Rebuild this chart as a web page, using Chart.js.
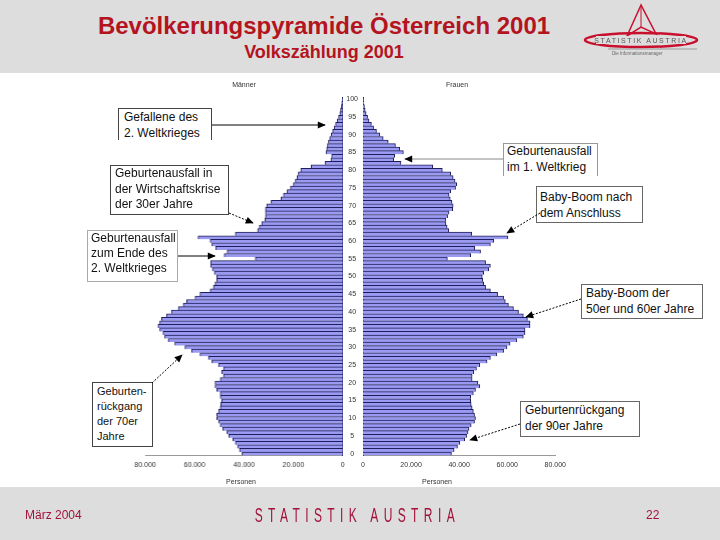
<!DOCTYPE html>
<html lang="de">
<head>
<meta charset="utf-8">
<title>Bevölkerungspyramide Österreich 2001</title>
<script src="https://cdn.jsdelivr.net/npm/chart.js@4.4.1/dist/chart.umd.min.js"></script>
<style>
  body { margin: 0; background: #fff; }
  #slide { position: relative; width: 720px; height: 540px; overflow: hidden; background: #fff;
           font-family: Arial, "Liberation Sans", sans-serif; }
  .band { position: absolute; left: 0; width: 720px; background: #dddddd; }
  #titel { position: absolute; left: 0; width: 648px; top: 12px; text-align: center;
           font: bold 24px Arial, "Liberation Sans", sans-serif; color: #b4141e; line-height: 28px; }
  #untertitel { position: absolute; left: 0; width: 648px; top: 41px; text-align: center;
                font: bold 18px Arial, "Liberation Sans", sans-serif; color: #b4141e; line-height: 22px; }
  .chartbox { position: absolute; top: 80px; height: 400px; }
  .lbl { position: absolute; font-size: 7px; color: #333; line-height: 9px; transform: translateX(-50%); white-space: nowrap; }
  .note { position: absolute; box-sizing: border-box; background: #fff; border: 1px solid #444;
          font-size: 12px; color: #111; line-height: 15.5px; white-space: nowrap; }
  #fussDatum { position: absolute; left: 25px; top: 508px; font-size: 12px; color: #a3123a; }
  #fussSeite { position: absolute; left: 646px; top: 508px; font-size: 12px; color: #a3123a; }
  #fussLogo { position: absolute; left: 0; width: 710px; top: 505px; text-align: center; }
  #fussLogo span { display: inline-block; font-size: 20px; line-height: 20px; letter-spacing: 9px; padding-left: 9px;
                   color: #a3123a; transform: scaleX(0.6); transform-origin: center; }
</style>
</head>
<body>
<div id="slide">
  <div class="band" style="top:0;height:73px;"></div>
  <div class="band" style="top:487px;height:53px;"></div>

  <div id="titel">Bevölkerungspyramide Österreich 2001</div>
  <div id="untertitel">Volkszählung 2001</div>

  <div class="chartbox" style="left:100px;width:248.7px;"><canvas id="maennerChart"></canvas></div>
  <div class="chartbox" style="left:341px;width:230px;"><canvas id="frauenChart"></canvas></div>

  <div class="lbl" style="left:244px;top:80px;">Männer</div>
  <div class="lbl" style="left:457px;top:80px;">Frauen</div>
  <div class="lbl" style="left:241px;top:477px;">Personen</div>
  <div class="lbl" style="left:437px;top:477px;">Personen</div>

  <!-- Anmerkungen -->
  <div class="note" style="left:118px;top:108px;width:94px;height:32px;padding:1px 0 0 5px;border-bottom:none;">Gefallene des<br>2. Weltkrieges</div>
  <div class="note" style="left:110px;top:165px;width:119px;height:50px;padding:0 0 0 4px;">Geburtenausfall in<br>der Wirtschaftskrise<br>der 30er Jahre</div>
  <div class="note" style="left:87px;top:230px;width:91px;height:52px;padding:0 0 0 3px;border-color:#aaa;line-height:15px;">Geburtenausfall<br>zum Ende des<br>2. Weltkrieges</div>
  <div class="note" style="left:92px;top:382px;width:61px;height:65px;padding:1px 0 0 4px;font-size:11px;line-height:15px;">Geburten-<br>rückgang<br>der 70er<br>Jahre</div>
  <div class="note" style="left:503px;top:143px;width:95px;height:33px;padding:0 0 0 3px;border-color:#999;border-bottom:none;">Geburtenausfall<br>im 1. Weltkrieg</div>
  <div class="note" style="left:536px;top:186px;width:107px;height:37px;padding:3px 0 0 3px;border-color:#666;">Baby-Boom nach<br>dem Anschluss</div>
  <div class="note" style="left:581px;top:284px;width:122px;height:35px;padding:1px 0 0 4px;border-color:#666;">Baby-Boom der<br>50er und 60er Jahre</div>
  <div class="note" style="left:520px;top:401px;width:120px;height:36px;padding:1px 0 0 4px;border-color:#666;">Geburtenrückgang<br>der 90er Jahre</div>

  <svg width="720" height="540" style="position:absolute;left:0;top:0;pointer-events:none;">
    <defs>
      <marker id="spitze" viewBox="0 0 10 10" refX="9" refY="5" markerWidth="9" markerHeight="8"
              markerUnits="userSpaceOnUse" orient="auto">
        <path d="M0,0.5 L10,5 L0,9.5 z" fill="#000"/>
      </marker>
    </defs>
    <line x1="212" y1="125" x2="325" y2="125" stroke="#000" stroke-width="1" marker-end="url(#spitze)"/>
    <line x1="229" y1="213" x2="253" y2="223" stroke="#000" stroke-width="1" stroke-dasharray="2,1.5" marker-end="url(#spitze)"/>
    <line x1="178" y1="256" x2="215" y2="256" stroke="#000" stroke-width="1" marker-end="url(#spitze)"/>
    <line x1="152" y1="383" x2="182" y2="355" stroke="#000" stroke-width="1" stroke-dasharray="2,1.5" marker-end="url(#spitze)"/>
    <line x1="503" y1="159" x2="405" y2="159" stroke="#888" stroke-width="1" marker-end="url(#spitze)"/>
    <line x1="540" y1="213" x2="507" y2="233" stroke="#000" stroke-width="1" stroke-dasharray="2,1.5" marker-end="url(#spitze)"/>
    <line x1="581" y1="299" x2="526" y2="317" stroke="#000" stroke-width="1" stroke-dasharray="2,1.5" marker-end="url(#spitze)"/>
    <line x1="520" y1="424" x2="470" y2="440" stroke="#000" stroke-width="1" stroke-dasharray="2,1.5" marker-end="url(#spitze)"/>

    <!-- Logo oben rechts -->
    <path d="M641,5 L627,36 L641,27 L656,34 Z" fill="none" stroke="#c8102e" stroke-width="1.5"/>
    <line x1="641" y1="5" x2="641" y2="27" stroke="#c8102e" stroke-width="1"/>
    <ellipse cx="641" cy="40" rx="56" ry="7" fill="none" stroke="#c8102e" stroke-width="2.5"/>
    <rect x="596" y="36" width="90" height="8" fill="#dddddd"/>
    <text x="641" y="43" text-anchor="middle" font-size="7" letter-spacing="1.6" fill="#555" font-family="Arial, sans-serif">STATISTIK AUSTRIA</text>
    <line x1="608" y1="49" x2="697" y2="49" stroke="#999" stroke-width="1"/>
    <text x="612" y="55" font-size="4.5" fill="#666" font-family="Arial, sans-serif">Die Informationsmanager</text>
  </svg>

  <div id="fussDatum">März 2004</div>
  <div id="fussLogo"><span>STATISTIK AUSTRIA</span></div>
  <div id="fussSeite">22</div>
</div>

<script>
// Altersjahre 0 bis 100
const alter = [
  0, 1, 2, 3, 4, 5, 6, 7, 8, 9, 10, 11, 12, 13, 14, 15, 16, 17, 18, 19,
  20, 21, 22, 23, 24, 25, 26, 27, 28, 29, 30, 31, 32, 33, 34, 35, 36, 37, 38, 39,
  40, 41, 42, 43, 44, 45, 46, 47, 48, 49, 50, 51, 52, 53, 54, 55, 56, 57, 58, 59,
  60, 61, 62, 63, 64, 65, 66, 67, 68, 69, 70, 71, 72, 73, 74, 75, 76, 77, 78, 79,
  80, 81, 82, 83, 84, 85, 86, 87, 88, 89, 90, 91, 92, 93, 94, 95, 96, 97, 98, 99, 100
];

// Männer je Altersjahr (Personen)
const maenner = [
  40800, 41800, 42600, 43500, 44500, 46200, 46900, 48600, 49600, 50300,
  51000, 51000, 50300, 49600, 49400, 49000, 49600, 49600, 51000, 51700,
  51700, 49600, 48300, 49000, 48300, 50300, 53000, 54400, 57800, 61200,
  63900, 68000, 70700, 72100, 72800, 74100, 74800, 74100, 73400, 71400,
  69400, 66600, 64600, 63200, 59800, 57800, 53700, 52400, 51700, 51000,
  51000, 52000, 52800, 53500, 53500, 35400, 48000, 46800, 51500, 53000,
  53700, 58600, 43500, 34500, 33800, 32800, 31500, 31300, 31300, 31300,
  30800, 29000, 25000, 24000, 22500, 21200, 20000, 19200, 18500, 18000,
  17000, 12800, 7200, 4800, 4500, 6800, 6500, 6200, 5800, 5300,
  4700, 4100, 3500, 2900, 2300, 1700, 1200, 900, 600, 400, 250
];

// Frauen je Altersjahr (Personen)
const frauen = [
  36800, 37900, 39300, 40300, 42300, 43100, 43700, 44100, 45000, 46400,
  46800, 46400, 45900, 45400, 45000, 44800, 44800, 45900, 46800, 48600,
  47800, 45400, 45400, 46100, 47200, 48600, 51600, 53000, 55700, 58500,
  59900, 61200, 64000, 66700, 67400, 67400, 69500, 69500, 68400, 66700,
  64700, 62600, 60500, 59200, 58500, 56000, 53000, 51000, 50200, 49800,
  49600, 50200, 52300, 53000, 51000, 35100, 44800, 48900, 46500, 53000,
  54400, 60300, 45200, 35700, 35000, 34500, 34500, 35200, 35800, 37300,
  37500, 37000, 36300, 35800, 36500, 38500, 39000, 38300, 37500, 36500,
  33000, 29000, 15800, 12800, 13200, 16800, 15300, 13500, 10500, 8400,
  7000, 5600, 4400, 3500, 2500, 1900, 1300, 900, 600, 350, 200
];

// Achsenbeschriftung x
const xMax = 80000;
const xSchritt = 20000;

const schrift = 'Arial, "Liberation Sans", sans-serif';
const balkenFarbe = '#9a9af2';
const balkenRand = '#1e1e5a';

// oben = 100 Jahre, daher umdrehen
const alterOben = alter.slice().reverse();
const maennerOben = maenner.slice().reverse();
const frauenOben = frauen.slice().reverse();

function formatDe(v) {
    return v.toString().replace(/\B(?=(\d{3})+(?!\d))/g, '.');
}

function balkenDatensatz(werte) {
    return {
        data: werte,
        backgroundColor: balkenFarbe,
        borderColor: balkenRand,
        borderWidth: { top: 1, bottom: 0, left: 1, right: 1 },
        borderSkipped: 'start',
        categoryPercentage: 1,
        barPercentage: 1
    };
}

function xAchse(umgekehrt) {
    return {
        reverse: umgekehrt,
        min: 0,
        max: xMax,
        ticks: {
            stepSize: xSchritt,
            maxRotation: 0,
            padding: 5,
            color: '#333',
            font: { size: 7, family: schrift },
            callback: v => formatDe(v)
        },
        grid: { display: false, drawTicks: false },
        border: { display: true, color: '#999' },
        afterFit: s => { s.height = 24.5; }
    };
}

// Männer (links, Achse gespiegelt)
new Chart(document.getElementById('maennerChart'), {
    type: 'bar',
    data: { labels: alterOben, datasets: [balkenDatensatz(maennerOben)] },
    options: {
        indexAxis: 'y',
        responsive: true,
        maintainAspectRatio: false,
        animation: false,
        layout: { padding: { left: 45, right: 0, top: 17.5, bottom: 0 } },
        plugins: { legend: { display: false }, tooltip: { enabled: false } },
        scales: {
            x: xAchse(true),
            y: {
                position: 'right',
                ticks: { display: false },
                grid: { display: false, drawTicks: false },
                border: { display: true, color: balkenRand },
                afterFit: s => { s.width = 0; }
            }
        }
    }
});

// Frauen (rechts, Altersangaben in der Mitte)
new Chart(document.getElementById('frauenChart'), {
    type: 'bar',
    data: { labels: alterOben, datasets: [balkenDatensatz(frauenOben)] },
    options: {
        indexAxis: 'y',
        responsive: true,
        maintainAspectRatio: false,
        animation: false,
        layout: { padding: { left: 0, right: 15, top: 17.5, bottom: 0 } },
        plugins: { legend: { display: false }, tooltip: { enabled: false } },
        scales: {
            x: xAchse(false),
            y: {
                position: 'left',
                ticks: {
                    autoSkip: false,
                    padding: 5,
                    crossAlign: 'center',
                    color: '#333',
                    font: { size: 7, family: schrift },
                    callback: function (v) {
                        const a = this.getLabelForValue(v);
                        return a % 5 === 0 ? a : '';
                    }
                },
                grid: { display: false, drawTicks: false },
                border: { display: true, color: balkenRand },
                afterFit: s => { s.width = 22; }
            }
        }
    }
});
</script>
</body>
</html>
